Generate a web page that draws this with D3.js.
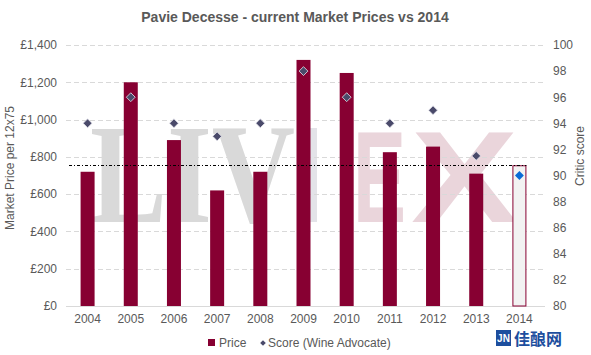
<!DOCTYPE html>
<html><head><meta charset="utf-8">
<script src="https://cdn.jsdelivr.net/npm/d3@7"></script>
<style>
html,body{margin:0;padding:0;background:#fff;}
svg{display:block;font-family:"Liberation Sans",Arial,sans-serif;}
</style></head>
<body><svg id="chart" width="591" height="355"></svg>
<script>
const years = ["2004","2005","2006","2007","2008","2009","2010","2011","2012","2013","2014"];
const prices = [720,1200,890,620,720,1320,1250,825,855,710,755];
const scores = [94,96,94,93,94,98,96,94,95,91.5,90];
const priceTicks = [0,200,400,600,800,1000,1200,1400];
const scoreTicks = [80,82,84,86,88,90,92,94,96,98,100];
const highlightYear = "2014";
const titleText = "Pavie Decesse - current Market Prices vs 2014";

const svg = d3.select("#chart");
const x = d3.scaleBand().domain(years).range([66,541]).padding(0);
const yL = d3.scaleLinear().domain([0,1400]).range([306,45]);
const yR = d3.scaleLinear().domain([80,100]).range([306,45]);
const textCol = "#595959";
const barCol = "#870032";

// watermark
const wm = svg.append("g");
wm.append("text").attr("x",90).attr("y",222).attr("font-family","Liberation Serif,serif")
  .attr("font-weight","bold").attr("font-size",142).attr("fill","#d9d9d9")
  .attr("textLength",205).attr("lengthAdjust","spacingAndGlyphs").text("LIV");
wm.append("rect").attr("x",310).attr("y",128).attr("width",7).attr("height",94).attr("fill","#e3e3e8");
wm.append("text").attr("x",353).attr("y",222).attr("font-family","Liberation Sans,sans-serif")
  .attr("font-weight","bold").attr("font-size",130).attr("fill","#ead5db")
  .attr("textLength",53).attr("lengthAdjust","spacingAndGlyphs").text("E");
wm.append("text").attr("x",411).attr("y",222).attr("font-family","Liberation Sans,sans-serif")
  .attr("font-weight","bold").attr("font-size",130).attr("fill","#ead5db")
  .attr("textLength",107).attr("lengthAdjust","spacingAndGlyphs").text("X");

// gridlines
svg.append("g").selectAll("line").data(priceTicks.filter(d=>d>0)).join("line")
  .attr("x1",66).attr("x2",545).attr("y1",d=>Math.round(yL(d))+0.5).attr("y2",d=>Math.round(yL(d))+0.5)
  .attr("stroke","#d9d9d9").attr("stroke-dasharray","5,3");

// left axis
const axL = svg.append("g").attr("transform","translate(66,0)")
  .call(d3.axisLeft(yL).tickValues(priceTicks).tickSize(0).tickPadding(9)
    .tickFormat(d=>"£"+d3.format(",")(d)));
axL.select(".domain").remove();
axL.selectAll("text").attr("fill",textCol).attr("font-size",12).attr("font-family","Liberation Sans,Arial,sans-serif");

// right axis
const axR = svg.append("g").attr("transform","translate(545,0)")
  .call(d3.axisRight(yR).tickValues(scoreTicks).tickSize(0).tickPadding(8));
axR.select(".domain").remove();
axR.selectAll("text").attr("fill",textCol).attr("font-size",12).attr("font-family","Liberation Sans,Arial,sans-serif");

// bottom axis
const axB = svg.append("g").attr("transform","translate(0,306)")
  .call(d3.axisBottom(x).tickSize(0).tickPadding(8));
axB.select(".domain").attr("stroke","#d9d9d9").attr("d","M66,0.5H545");
axB.selectAll("text").attr("fill",textCol).attr("font-size",12).attr("font-family","Liberation Sans,Arial,sans-serif");

// bars
const bw = 14;
const data = years.map((y,i)=>({year:y,price:prices[i],score:scores[i]}));
svg.append("g").selectAll("rect").data(data).join("rect")
  .attr("x",d=>x(d.year)+x.bandwidth()/2-bw/2+(d.year===highlightYear?0.5:0))
  .attr("y",d=>yL(d.price)+(d.year===highlightYear?0.5:0))
  .attr("width",d=>d.year===highlightYear?bw-1:bw)
  .attr("height",d=>yL(0)-yL(d.price)-(d.year===highlightYear?0.5:0))
  .attr("fill",d=>d.year===highlightYear?"#f2f2f2":barCol)
  .attr("stroke",d=>d.year===highlightYear?barCol:"none")
  .attr("stroke-width",1);

// reference dashed line at 2014 price
const refVal = prices[years.indexOf(highlightYear)];
svg.append("line").attr("x1",69).attr("x2",x(highlightYear)+x.bandwidth()/2+bw/2)
  .attr("y1",Math.round(yL(refVal))+0.5).attr("y2",Math.round(yL(refVal))+0.5)
  .attr("stroke","#000").attr("stroke-dasharray","3,2,1,2");

// diamonds
const dsym = d3.symbol().type(d3.symbolDiamond2).size(50);
svg.append("g").selectAll("path").data(data).join("path")
  .attr("d",dsym)
  .attr("transform",d=>`translate(${x(d.year)+x.bandwidth()/2},${yR(d.score)})`)
  .attr("fill",d=>d.year===highlightYear?"#0a6bd6":"#4a4a6a")
  .attr("stroke",d=>d.year===highlightYear?"none":"#e6e6ee").attr("stroke-width",0.8);

// title
svg.append("text").attr("x",295).attr("y",22).attr("text-anchor","middle")
  .attr("font-size",14).attr("font-weight","bold").attr("fill",textCol).text(titleText);

// axis titles
svg.append("text").attr("transform","translate(14,168) rotate(-90)").attr("text-anchor","middle")
  .attr("font-size",12).attr("fill",textCol).text("Market Price per 12x75");
svg.append("text").attr("transform","translate(584,156) rotate(-90)").attr("text-anchor","middle")
  .attr("font-size",12).attr("fill",textCol).text("Critic score");

// legend
const lg = svg.append("g");
lg.append("rect").attr("x",208).attr("y",339).attr("width",7).attr("height",7).attr("fill",barCol);
lg.append("text").attr("x",219).attr("y",347).attr("font-size",12).attr("fill",textCol).text("Price");
lg.append("path").attr("d",d3.symbol().type(d3.symbolDiamond2).size(20))
  .attr("transform","translate(263,343)").attr("fill","#4a4a6a");
lg.append("text").attr("x",268).attr("y",347).attr("font-size",12).attr("fill",textCol).text("Score (Wine Advocate)");

// site logo
const logo = svg.append("g");
logo.append("rect").attr("x",496).attr("y",330).attr("width",15).attr("height",16).attr("fill","#1d4e9e");
logo.append("text").attr("x",503.5).attr("y",342).attr("text-anchor","middle").attr("font-size",10)
  .attr("font-weight","bold").attr("fill","#fff").text("JN");
logo.append("text").attr("x",514).attr("y",345).attr("font-family","Noto Sans CJK SC,sans-serif")
  .attr("font-size",16).attr("font-weight","bold").attr("fill","#1d4e9e").text("佳酿网");
</script></body></html>
